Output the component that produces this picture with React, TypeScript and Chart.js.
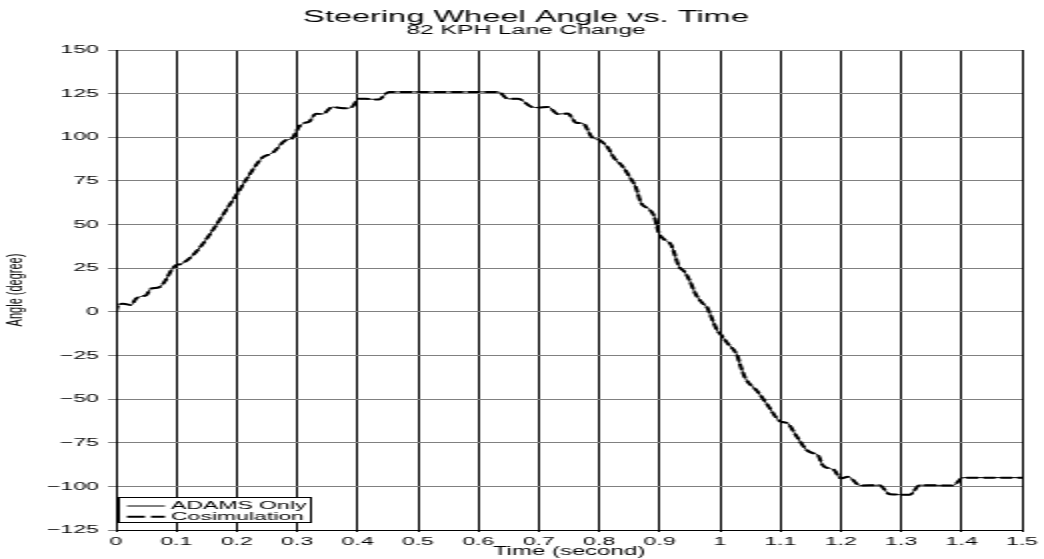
import { useEffect, useRef } from 'react';
import { Chart, registerables } from 'chart.js';

Chart.register(...registerables);

// ---- data ----
const timeSeconds = [
  0, 0.004, 0.012, 0.025, 0.033, 0.044, 0.05, 0.058, 0.071, 0.082, 0.092, 0.1, 0.108, 0.2,
  0.215, 0.243, 0.259, 0.281, 0.292, 0.303, 0.312, 0.32, 0.331, 0.342, 0.358, 0.38, 0.391,
  0.402, 0.413, 0.435, 0.452, 0.633, 0.649, 0.666, 0.688, 0.7, 0.715, 0.732, 0.748, 0.762,
  0.773, 0.788, 0.8, 0.814, 0.825, 0.839, 0.85, 0.861, 0.869, 0.883, 0.891, 0.899, 0.908,
  0.919, 0.924, 0.932, 0.941, 0.949, 0.96, 0.971, 0.979, 0.985, 0.996, 1.0, 1.012, 1.029,
  1.034, 1.042, 1.062, 1.078, 1.1, 1.111, 1.127, 1.143, 1.154, 1.162, 1.17, 1.181, 1.189,
  1.2, 1.212, 1.232, 1.264, 1.281, 1.314, 1.331, 1.386, 1.402, 1.5,
];

const adamsOnlyDeg = [
  0, 4.3, 4.6, 3.9, 7.5, 9, 9.5, 13.3, 14, 18, 24, 26.8, 27.4, 67.3,
  75.5, 88.5, 91, 98.3, 99.5, 106, 108.2, 109, 113.5, 113.3, 117.3, 116.6, 117.4,
  122, 122, 121.6, 126, 126, 122, 122, 117.4, 117, 117.4, 113.3, 113.6, 108.3,
  108, 100, 98.5, 94.2, 88, 83.2, 77.5, 71, 62.5, 58.7, 54.8, 45, 41.4,
  38.4, 34, 26, 23, 18.4, 10, 5, 2.3, -2.5, -11, -12.5, -17.8, -25.4,
  -31, -38, -45.6, -53, -62.8, -63.7, -71.4, -79, -81, -82, -87.8, -89.7, -90.6,
  -95.4, -94.5, -99.5, -99.3, -104.5, -104.8, -99.3, -99.5, -95, -95,
];

const cosimulationDeg = [
  0, 4.4, 4.6, 3.9, 7.5, 9, 9.5, 13.3, 14, 18, 24, 26.8, 27.4, 67.3,
  75.5, 88.5, 91, 98.3, 99.5, 106, 108.2, 109, 113.5, 113.3, 117.3, 116.6, 117.4,
  122, 122, 121.6, 126, 126, 122, 122, 117.4, 117, 117.4, 113.3, 113.6, 108.3,
  108, 100, 98.5, 94.2, 88, 83.2, 77.5, 71, 62.5, 58.7, 54.8, 45, 41.4,
  38.4, 34, 26, 23, 18.4, 10, 5, 2.3, -2.5, -11, -12.5, -17.8, -25.4,
  -31, -38, -45.6, -53, -62.8, -63.7, -71.4, -79, -81, -82, -87.8, -89.7, -90.6,
  -95.4, -94.5, -99.5, -99.3, -104.5, -104.8, -99.3, -99.5, -95, -95,
];

const seriesLabels = ['ADAMS Only', 'Cosimulation'];
const xRange = [0, 1.5];
const xStep = 0.1;
const yRange = [-125, 150];
const yStep = 25;

const chartTitle = 'Steering Wheel Angle vs. Time';
const chartSubtitle = '82 KPH Lane Change';
const xAxisTitle = 'Time (second)';
const yAxisTitle = 'Angle (degree)';

const FONT = '"Liberation Sans", Arial, Helvetica, sans-serif';

// The reference is a chart rendered at half width and stretched 2x horizontally.
const INNER_W = 522;
const INNER_H = 559;

const headerPlugin = {
  id: 'headerTitles',
  afterDraw(chart: any) {
    const ctx = chart.ctx as CanvasRenderingContext2D;
    ctx.save();
    ctx.fillStyle = '#000';
    ctx.textAlign = 'center';
    ctx.textBaseline = 'middle';
    ctx.font = `16.3px ${FONT}`;
    ctx.fillText(chartTitle, 263, 17.5);
    ctx.font = `12.3px ${FONT}`;
    ctx.fillText(chartSubtitle, 263, 31);
    ctx.restore();
  },
};

const boxLegendPlugin = {
  id: 'boxLegend',
  afterDraw(chart: any) {
    const ctx = chart.ctx as CanvasRenderingContext2D;
    const area = chart.chartArea;
    const left = area.left + 1.5;
    const top = area.bottom - 32.5;
    const w = 96;
    const h = 25;
    ctx.save();
    ctx.fillStyle = '#fff';
    ctx.fillRect(left, top, w, h);
    ctx.strokeStyle = '#000';
    ctx.lineWidth = 1;
    ctx.setLineDash([]);
    ctx.strokeRect(left, top, w, h);
    const rows = [top + 8.5, top + 19.2];
    const dashes = [[], [9, 3]];
    chart.data.datasets.forEach((ds: any, i: number) => {
      const y = rows[i];
      ctx.beginPath();
      ctx.setLineDash(dashes[i]);
      ctx.lineWidth = ds.borderWidth;
      ctx.strokeStyle = ds.borderColor;
      ctx.moveTo(left + 4, y);
      ctx.lineTo(left + 23, y);
      ctx.stroke();
      ctx.setLineDash([]);
      ctx.fillStyle = '#000';
      ctx.font = `11.5px ${FONT}`;
      ctx.textAlign = 'left';
      ctx.textBaseline = 'middle';
      ctx.fillText(ds.label, left + 26, y);
    });
    ctx.restore();
  },
};

export default function App() {
  const canvasRef = useRef<HTMLCanvasElement>(null);

  useEffect(() => {
    const canvas = canvasRef.current;
    if (!canvas) return;
    Chart.defaults.font.family = FONT;
    Chart.defaults.color = '#000';

    const chart = new Chart(canvas, {
      type: 'line',
      data: {
        datasets: [
          {
            label: seriesLabels[0],
            data: timeSeconds.map((t, i) => ({ x: t, y: adamsOnlyDeg[i] })),
            borderColor: '#000',
            borderWidth: 1,
            pointRadius: 0,
            fill: false,
            cubicInterpolationMode: 'monotone',
            order: 1,
          },
          {
            label: seriesLabels[1],
            data: timeSeconds.map((t, i) => ({ x: t, y: cosimulationDeg[i] })),
            borderColor: '#000',
            borderWidth: 2,
            borderDash: [6, 2.5],
            pointRadius: 0,
            fill: false,
            cubicInterpolationMode: 'monotone',
            order: 0,
          },
        ],
      },
      options: {
        responsive: false,
        maintainAspectRatio: false,
        animation: false,
        layout: { padding: { top: 50, right: 10.5, bottom: 0, left: 0 } },
        plugins: {
          legend: { display: false },
          title: { display: false },
          tooltip: { enabled: false },
        },
        scales: {
          x: {
            type: 'linear',
            min: xRange[0],
            max: xRange[1],
            ticks: {
              stepSize: xStep,
              autoSkip: false,
              maxRotation: 0,
              color: '#000',
              padding: 3,
              font: { size: 11.5 },
              callback: (v: any) => String(Math.round(Number(v) * 10) / 10),
            },
            grid: { color: '#000', lineWidth: 1, tickLength: 2 },
            border: { color: '#000', width: 1 },
            title: {
              display: true,
              text: xAxisTitle,
              color: '#000',
              font: { size: 12 },
              padding: { top: 0, bottom: 0 },
            },
            afterFit: (s: any) => {
              s.height = 29;
            },
          },
          y: {
            type: 'linear',
            min: yRange[0],
            max: yRange[1],
            ticks: {
              stepSize: yStep,
              color: '#000',
              padding: 4.5,
              font: { size: 11.5 },
              callback: (v: any) => (Number(v) < 0 ? '\u2212' + Math.abs(Number(v)) : String(v)),
            },
            grid: { color: '#808080', lineWidth: 1, tickLength: 4 },
            border: { color: '#000', width: 1 },
            title: {
              display: true,
              text: yAxisTitle,
              color: '#000',
              font: { size: 11 },
              padding: { top: 1, bottom: 0 },
            },
            afterFit: (s: any) => {
              s.width = 58;
            },
          },
        },
      },
      plugins: [headerPlugin, boxLegendPlugin],
    } as any);

    return () => chart.destroy();
  }, []);

  return (
    <div style={{ position: 'absolute', left: 0, top: 0, width: 1044, height: 559, background: '#fff' }}>
      <canvas
        ref={canvasRef}
        width={INNER_W}
        height={INNER_H}
        style={{ width: '1044px', height: '559px', display: 'block' }}
      />
    </div>
  );
}
